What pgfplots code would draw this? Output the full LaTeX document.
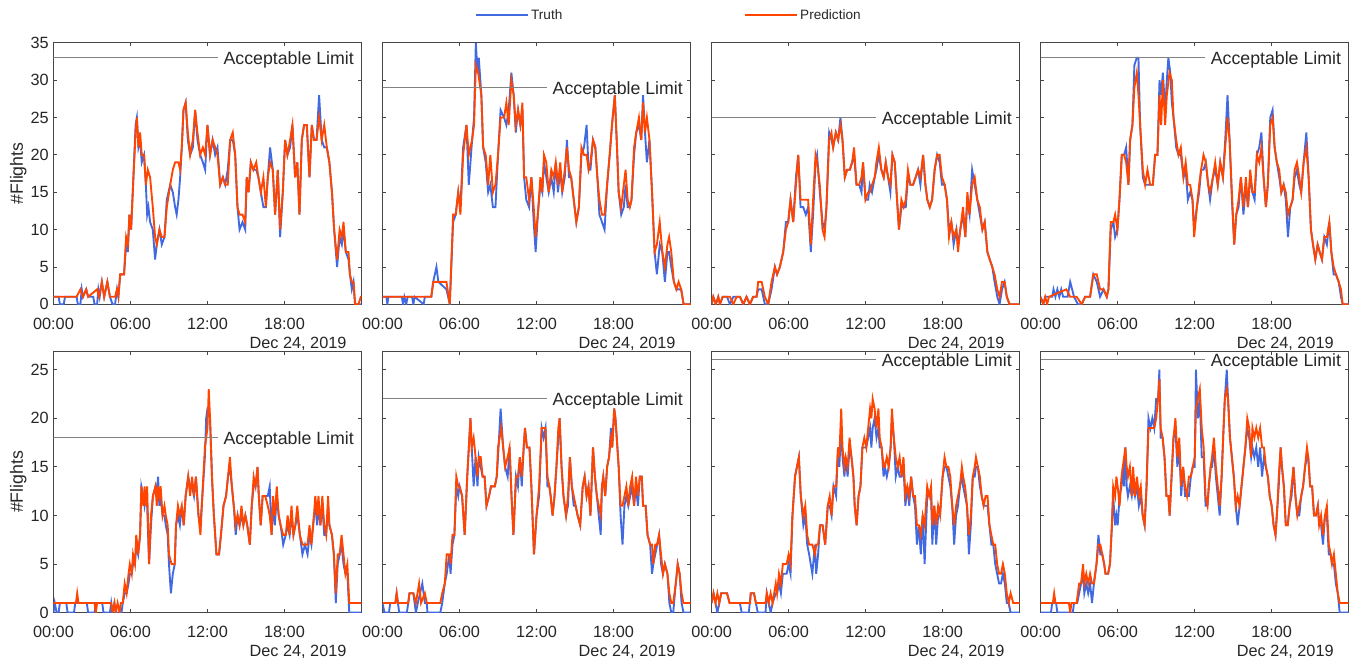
\documentclass[border=0pt]{standalone}
\usepackage{fontspec}
\setmainfont{Liberation Sans}
\usepackage{pgfplots}
\pgfplotsset{compat=1.18}
\definecolor{truthcol}{RGB}{65,105,225}
\definecolor{predcol}{RGB}{255,69,0}
\definecolor{txtcol}{RGB}{38,38,38}
\definecolor{axcol}{RGB}{70,70,70}
\definecolor{limcol}{RGB}{130,130,130}
\newcommand\tickfont{\fontsize{12.2}{14}\selectfont}
\newcommand\labfont{\fontsize{13.3}{15}\selectfont}
\newcommand\legfont{\fontsize{10.2}{12}\selectfont}
\pgfplotsset{
  panel/.style={
    scale only axis, width=231pt, height=196.1pt,
    anchor=south west,
    xmin=0, xmax=24, ymin=0,
    xtick={0,6,12,18}, xticklabels={00:00,06:00,12:00,18:00},
    axis line style={draw=axcol, line width=0.6pt},
    tick style={draw=axcol, line width=0.6pt},
    major tick length=2.6pt,
    ticklabel style={font=\tickfont, text=txtcol},
    xticklabel style={yshift=-6.5pt},
    /pgf/number format/assume math mode=true,
    xlabel={Dec 24, 2019},
    xlabel style={font=\tickfont, text=txtcol, at={(axis description cs:0.952,-0.15)}, anchor=east, inner sep=0pt},
    tr/.style={truthcol, line width=1.4pt},
    pr/.style={predcol, line width=1.4pt},
  },
  toprow/.style={ymax=35, ytick={0,5,...,35}},
  botrow/.style={ymax=26.9, ytick={0,5,...,25}},
  firstcol/.style={ylabel={\#Flights}, ylabel style={font=\labfont, text=txtcol, at={(axis description cs:-0.114,0.5)}, anchor=center}},
  othercol/.style={yticklabels={}},
}
\newcommand\limitline[1]{%
  \addplot[limcol, line width=0.8pt, forget plot] coordinates {(0,#1) (12.8,#1)};
  \node[anchor=east, font=\labfont, text=txtcol, inner sep=0pt, yshift=-1.5pt] at (axis cs:23.42,#1) {Acceptable Limit};
}
\begin{document}
\begin{tikzpicture}
\useasboundingbox (0,0) rectangle (1017pt,-496.5pt);
% ---------------- Panel 1
\begin{axis}[panel, toprow, firstcol, at={(40.1pt,-228.2pt)}]
\addplot[tr] coordinates {(0,1)(0.4,1)(0.5,0)(0.8,0)(0.9,1)(1.8,1)(1.9,0)(2.1,0)(2.2,2)(2.3,1)(2.55,2)(2.7,1)(3.1,1)(3.2,0)(3.4,0)(3.5,2)(3.6,1)(3.77,3)(3.95,1)(4.2,3)(4.4,1)(4.6,0)(4.8,0)(4.95,2)(5.06,1)(5.2,4)(5.5,4)(5.62,7)(5.7,9)(5.8,7)(5.92,12)(6.05,10)(6.23,17)(6.4,24)(6.5,25)(6.62,21)(6.75,22)(6.88,19)(7.06,20)(7.2,16)(7.3,12)(7.4,13)(7.53,11)(7.74,10)(7.92,6)(8.05,8)(8.26,10)(8.44,8)(8.65,9)(8.83,14)(9.1,16)(9.3,15)(9.48,13)(9.6,12)(9.74,14)(9.87,17)(10.0,21)(10.13,26)(10.3,27)(10.47,22)(10.65,20)(10.86,21)(11.04,26)(11.22,22)(11.43,20)(11.64,19)(11.82,18)(12.0,24)(12.2,20)(12.4,22)(12.6,20)(12.78,21)(12.99,16)(13.2,17)(13.38,16)(13.58,18)(13.77,22)(13.97,22)(14.16,20)(14.34,13)(14.5,10)(14.73,11)(14.94,10)(15.06,17)(15.2,15)(15.38,19)(15.58,18)(15.8,18)(15.97,17)(16.16,15)(16.36,13)(16.55,13)(16.7,17)(16.88,21)(17.09,18)(17.27,12)(17.48,18)(17.66,9)(17.87,15)(18.05,22)(18.23,20)(18.44,21)(18.62,24)(18.83,17)(19.0,19)(19.17,12)(19.35,22)(19.53,24)(19.74,24)(19.95,17)(20.13,24)(20.3,22)(20.5,22)(20.7,28)(20.9,22)(21.1,21)(21.3,21)(21.5,19)(21.7,15)(21.87,10)(22.1,5)(22.3,9)(22.47,8)(22.6,10)(22.78,7)(22.99,6)(23.1,4)(23.25,2)(23.38,3)(23.5,0)(24,0)};
\addplot[pr] coordinates {(0,1)(1.0,1)(1.8,1)(2.1,2)(2.3,1)(2.55,2)(2.7,1)(3.4,2)(3.55,1)(3.77,3)(3.95,1)(4.2,3)(4.4,1)(4.8,1)(4.95,2)(5.06,1)(5.2,4)(5.5,4)(5.66,9)(5.8,8)(5.92,12)(6.05,10)(6.23,17)(6.4,23)(6.5,25)(6.62,21)(6.75,23)(6.88,20)(7.06,20)(7.2,16)(7.35,18)(7.53,17)(7.74,13)(7.92,9)(8.05,8)(8.26,10)(8.44,9)(8.65,9)(8.83,13)(9.1,16)(9.3,18)(9.48,19)(9.74,19)(9.87,18)(10.0,21)(10.13,26)(10.3,27)(10.47,23)(10.65,20)(10.86,22)(11.04,26)(11.22,23)(11.43,20)(11.64,21)(11.82,20)(12.0,24)(12.2,20)(12.4,22)(12.6,21)(12.78,20)(12.99,16)(13.2,17)(13.38,16)(13.58,16)(13.77,22)(13.97,23)(14.16,20)(14.34,13)(14.5,12)(14.73,12)(14.94,11)(15.06,17)(15.2,15)(15.38,19)(15.58,18)(15.8,19)(15.97,17)(16.16,15)(16.36,17)(16.55,13)(16.7,17)(16.88,19)(17.09,18)(17.27,12)(17.48,18)(17.66,10)(17.87,15)(18.05,22)(18.23,20)(18.44,22)(18.62,24)(18.83,17)(19.0,19)(19.17,12)(19.35,22)(19.53,24)(19.74,24)(19.95,17)(20.13,24)(20.3,22)(20.5,22)(20.7,25)(20.9,22)(21.1,24)(21.3,21)(21.5,19)(21.7,15)(21.87,10)(22.1,6)(22.3,10)(22.47,9)(22.6,11)(22.78,7)(22.99,7)(23.1,4)(23.25,3)(23.38,3)(23.5,0)(23.77,0)(23.95,1)(24,1)};
\limitline{33}
\end{axis}
% ---------------- Panel 2
\begin{axis}[panel, toprow, othercol, at={(286.9pt,-228.2pt)},
  legend columns=2,
  legend style={at={(axis description cs:0.93,1.105)}, anchor=center, draw=none, fill=none, font=\legfont, text=txtcol, /tikz/every even column/.append style={column sep=134pt}},
  legend image code/.code={\draw[#1] (0pt,0pt) -- (39pt,0pt);}]
\addplot[tr] coordinates {(0,1)(0.3,1)(0.38,0)(0.45,1)(1.5,1)(1.6,0)(1.7,1)(1.85,0)(1.95,1)(2.3,1)(2.4,0)(2.5,1)(3.2,0)(3.3,1)(3.8,1)(3.95,3)(4.2,5)(4.35,3)(4.98,2)(5.24,0)(5.5,11)(5.7,12)(5.9,15)(6.07,13)(6.28,21)(6.54,24)(6.72,16)(6.98,22)(7.13,25)(7.27,35)(7.4,31)(7.5,33)(7.7,28)(7.84,21)(8.04,19)(8.23,15)(8.4,16)(8.6,13)(8.8,13)(9.0,20)(9.2,26)(9.47,25)(9.65,24)(9.83,26)(10.04,31)(10.22,28)(10.38,23)(10.56,26)(10.74,24)(10.9,26)(11.03,17)(11.2,14)(11.42,13)(11.6,17)(11.78,11)(11.93,7)(12.1,12)(12.3,16)(12.45,15)(12.58,19)(12.76,17)(12.95,15)(13.15,17)(13.34,15)(13.5,19)(13.67,15)(13.85,18)(14.0,15)(14.2,17)(14.37,22)(14.53,17)(14.7,17)(14.9,14)(15.1,11)(15.3,13)(15.5,20)(15.7,21)(15.9,24)(16.06,18)(16.2,18)(16.4,22)(16.58,21)(16.74,17)(16.9,12)(17.1,11)(17.3,10)(17.5,16)(17.7,20)(17.88,24)(18.1,28)(18.27,21)(18.4,15)(18.6,12)(18.8,13)(18.94,16)(19.1,13)(19.27,13)(19.4,14)(19.6,20)(19.77,23)(19.98,24)(20.16,22)(20.3,28)(20.45,23)(20.6,19)(20.8,22)(21.0,15)(21.2,7)(21.38,4)(21.6,8)(21.8,7)(22.0,3)(22.2,7)(22.33,7)(22.5,5)(22.7,3)(22.9,2)(23.07,2)(23.27,2)(23.46,0)(24,0)};
\addplot[pr] coordinates {(0,1)(3.8,1)(3.95,3)(4.98,3)(5.24,0)(5.5,12)(5.7,12)(5.9,15)(6.07,12)(6.28,20)(6.54,24)(6.72,20)(6.98,22)(7.13,24)(7.27,32)(7.45,31)(7.7,28)(7.84,21)(8.04,20)(8.23,16)(8.4,20)(8.6,15)(8.8,16)(9.0,20)(9.2,25)(9.47,25)(9.65,27)(9.83,24)(10.04,30)(10.22,28)(10.38,24)(10.56,26)(10.74,24)(10.9,27)(11.03,17)(11.2,17)(11.42,14)(11.6,17)(11.78,13)(11.93,9)(12.1,12)(12.3,17)(12.45,15)(12.58,20)(12.76,19)(12.95,15)(13.15,18)(13.34,17)(13.5,19)(13.67,16)(13.85,19)(14.0,15)(14.2,18)(14.37,21)(14.53,18)(14.7,17)(14.9,14)(15.1,11)(15.3,13)(15.5,21)(15.7,20)(15.9,20)(16.06,18)(16.2,19)(16.4,22)(16.58,21)(16.74,17)(16.9,14)(17.1,12)(17.3,12)(17.5,16)(17.7,20)(17.88,24)(18.1,28)(18.27,21)(18.4,15)(18.6,13)(18.8,16)(18.94,18)(19.1,14)(19.27,13)(19.4,14)(19.6,21)(19.77,23)(19.98,25)(20.16,22)(20.3,27)(20.45,23)(20.6,25)(20.8,22)(21.0,15)(21.2,7)(21.38,8)(21.6,11)(21.8,7)(22.0,5)(22.2,8)(22.33,9)(22.5,7)(22.7,3)(22.9,2)(23.07,3)(23.27,2)(23.46,0)(24,0)};
\legend{Truth,Prediction}
\limitline{29}
\end{axis}
% ---------------- Panel 3
\begin{axis}[panel, toprow, othercol, at={(533.7pt,-228.2pt)}]
\addplot[tr] coordinates {(0,0)(0.13,1)(0.33,0)(0.52,1)(0.65,0)(0.86,1)(1.2,1)(1.43,0)(1.69,1)(2.21,1)(2.47,0)(2.72,1)(2.98,0)(3.24,1)(3.5,1)(3.63,2)(3.9,2)(4.15,0)(4.41,0)(4.67,2)(4.93,5)(5.1,4)(5.32,5)(5.58,7)(5.79,11)(5.97,11)(6.15,14)(6.36,11)(6.57,17)(6.75,20)(6.93,13)(7.14,13)(7.34,12)(7.52,13)(7.73,7)(7.91,12)(8.1,19)(8.22,20)(8.43,15)(8.64,11)(8.8,10)(8.95,13)(9.16,23)(9.34,22)(9.47,21)(9.68,23)(9.86,22)(10.04,25)(10.2,22)(10.38,17)(10.56,18)(10.77,18)(10.95,19)(11.1,20)(11.29,16)(11.5,16)(11.68,15)(11.8,19)(11.99,14)(12.2,14)(12.32,16)(12.5,15)(12.71,17)(12.84,18)(13.03,20)(13.23,18)(13.41,17)(13.57,19)(13.75,17)(13.93,15)(14.09,20)(14.27,19)(14.45,14)(14.6,10)(14.79,13)(14.97,13)(15.13,13)(15.3,17)(15.49,16)(15.7,16)(15.9,17)(16.09,18)(16.27,16)(16.48,20)(16.66,16)(16.81,14)(17.0,13)(17.18,14)(17.38,18)(17.57,20)(17.77,19)(17.95,16)(18.16,16)(18.34,14)(18.5,10)(18.68,11)(18.86,8)(19.07,10)(19.2,8)(19.38,10)(19.59,12)(19.77,9)(19.93,14)(20.1,12)(20.3,18)(20.5,16)(20.7,14)(20.9,12)(21.1,10)(21.28,11)(21.49,7)(21.67,6)(21.87,5)(22.05,3)(22.26,1)(22.44,0)(22.63,2)(22.83,3)(23.0,1)(23.22,0)(24,0)};
\addplot[pr] coordinates {(0,0)(0.13,1)(0.33,0)(0.52,1)(0.65,0)(0.86,1)(1.43,1)(1.69,0)(1.95,1)(2.21,1)(2.47,0)(2.72,1)(2.98,0)(3.24,1)(3.5,1)(3.63,3)(3.9,3)(4.15,1)(4.41,0)(4.67,3)(4.93,5)(5.1,4)(5.32,5)(5.58,7)(5.79,10)(5.97,11)(6.15,14)(6.36,11)(6.57,16)(6.75,20)(6.93,14)(7.14,14)(7.34,14)(7.52,14)(7.73,8)(7.91,14)(8.1,20)(8.22,19)(8.43,16)(8.64,10)(8.8,9)(8.95,13)(9.16,22)(9.34,23)(9.47,21)(9.68,23)(9.86,22)(10.04,24)(10.2,22)(10.38,17)(10.56,18)(10.77,18)(10.95,19)(11.1,21)(11.29,16)(11.5,16)(11.68,17)(11.8,19)(11.99,14)(12.2,15)(12.32,15)(12.5,16)(12.71,17)(12.84,19)(13.03,21)(13.23,18)(13.41,17)(13.57,19)(13.75,17)(13.93,16)(14.09,20)(14.27,19)(14.45,14)(14.6,10)(14.79,14)(14.97,13)(15.13,14)(15.3,18)(15.49,16)(15.7,16)(15.9,17)(16.09,18)(16.27,17)(16.48,20)(16.66,16)(16.81,14)(17.0,13)(17.18,14)(17.38,18)(17.57,20)(17.77,20)(17.95,17)(18.16,16)(18.34,14)(18.5,9)(18.68,11)(18.86,9)(19.07,10)(19.2,7)(19.38,10)(19.59,13)(19.77,9)(19.93,15)(20.1,12)(20.3,16)(20.5,17)(20.7,14)(20.9,13)(21.1,10)(21.28,11)(21.49,7)(21.67,6)(21.87,5)(22.05,4)(22.26,2)(22.44,1)(22.63,3)(22.83,3)(23.0,1)(23.22,0)(24,0)};
\limitline{25}
\end{axis}
% ---------------- Panel 4
\begin{axis}[panel, toprow, othercol, at={(780.5pt,-228.2pt)}]
\addplot[tr] coordinates {(0,1)(0.2,0)(0.35,1)(0.9,1)(1.0,2)(1.15,1)(1.3,2)(1.45,1)(1.6,2)(1.75,1)(2.1,1)(2.3,3)(2.45,2)(2.6,1)(2.9,0)(3.2,0)(3.46,1)(3.85,1)(4.1,4)(4.37,3)(4.63,1)(4.9,2)(5.15,1)(5.28,2)(5.46,10)(5.67,11)(5.8,9)(5.98,10)(6.14,14)(6.32,20)(6.5,20)(6.66,21)(6.84,16)(6.97,22)(7.15,24)(7.3,32)(7.49,33)(7.62,33)(7.75,24)(7.96,17)(8.14,16)(8.32,16)(8.53,16)(8.74,16)(8.92,20)(9.1,20)(9.26,30)(9.39,28)(9.52,31)(9.7,26)(9.83,30)(9.95,33)(10.1,31)(10.22,27)(10.35,25)(10.56,21)(10.74,20)(10.92,20)(11.13,17)(11.3,18)(11.47,14)(11.65,15)(11.83,14)(11.96,10)(12.17,13)(12.35,15)(12.5,18)(12.69,18)(12.87,19)(13.05,16)(13.2,14)(13.42,17)(13.6,18)(13.8,16)(13.99,19)(14.2,17)(14.38,22)(14.56,28)(14.72,22)(14.9,14)(15.08,8)(15.24,12)(15.42,13)(15.6,17)(15.8,12)(15.99,16)(16.15,13)(16.33,17)(16.5,15)(16.67,14)(16.85,20)(17.03,21)(17.2,23)(17.37,17)(17.55,13)(17.7,16)(17.89,25)(18.07,26)(18.23,21)(18.4,19)(18.59,17)(18.75,15)(18.93,16)(19.1,14)(19.27,9)(19.45,13)(19.63,14)(19.79,17)(19.97,18)(20.15,16)(20.3,15)(20.49,19)(20.7,23)(20.88,17)(21.06,10)(21.22,8)(21.4,6)(21.58,8)(21.74,7)(21.92,6)(22.1,9)(22.3,8)(22.49,11)(22.65,7)(22.83,4)(23.01,4)(23.22,3)(23.4,1)(23.53,0)(24,0)};
\addplot[pr] coordinates {(0,1)(0.2,0)(0.35,1)(0.5,0)(0.65,1)(2.0,2)(2.3,1)(2.8,1)(3.2,0)(3.46,1)(3.85,1)(4.1,4)(4.37,4)(4.63,2)(4.9,2)(5.15,1)(5.28,2)(5.46,11)(5.67,11)(5.8,12)(5.98,10)(6.14,14)(6.32,20)(6.5,20)(6.66,19)(6.84,16)(6.97,22)(7.15,24)(7.3,29)(7.49,31)(7.62,28)(7.75,24)(7.96,18)(8.14,16)(8.32,18)(8.53,16)(8.74,16)(8.92,20)(9.1,20)(9.26,28)(9.39,24)(9.52,30)(9.7,24)(9.83,28)(10.04,31)(10.22,30)(10.35,25)(10.56,22)(10.74,20)(10.92,21)(11.13,17)(11.3,19)(11.47,16)(11.65,16)(11.83,14)(11.96,9)(12.17,13)(12.35,16)(12.5,18)(12.69,20)(12.87,19)(13.05,16)(13.2,15)(13.42,17)(13.6,19)(13.8,16)(13.99,19)(14.2,17)(14.38,21)(14.56,25)(14.72,22)(14.9,15)(15.08,8)(15.24,12)(15.42,14)(15.6,17)(15.8,13)(15.99,17)(16.15,13)(16.33,18)(16.5,15)(16.67,15)(16.85,20)(17.03,19)(17.2,21)(17.37,17)(17.55,13)(17.7,16)(17.89,24)(18.07,25)(18.23,21)(18.4,19)(18.59,18)(18.75,15)(18.93,16)(19.1,15)(19.27,12)(19.45,13)(19.63,14)(19.79,18)(19.97,19)(20.15,17)(20.3,15)(20.49,19)(20.7,21)(20.88,17)(21.06,10)(21.22,8)(21.4,6)(21.58,8)(21.74,7)(21.92,6)(22.1,9)(22.3,9)(22.49,11)(22.65,7)(22.83,5)(23.01,4)(23.22,3)(23.4,2)(23.53,0)(24,0)};
\limitline{33}
\end{axis}
% ---------------- Panel 5
\begin{axis}[panel, botrow, firstcol, at={(40.1pt,-459.5pt)}]
\addplot[tr] coordinates {(0,0)(0.1,1)(0.25,0)(0.4,0)(0.5,1)(1.0,1)(1.1,0)(1.6,0)(1.7,1)(2.6,1)(2.7,0)(3.2,0)(3.3,1)(3.8,1)(3.9,0)(4.4,0)(4.5,1)(4.6,0)(4.75,1)(4.85,0)(5.3,0)(5.4,1)(5.55,2)(5.7,2)(5.85,3)(5.95,4)(6.1,4)(6.2,5)(6.35,5)(6.45,7)(6.6,6)(6.75,8)(6.85,13)(7.0,12)(7.1,11)(7.2,12)(7.3,11)(7.45,5)(7.6,9)(7.75,12)(7.95,13)(8.05,12)(8.15,14)(8.25,11)(8.35,12)(8.5,10)(8.65,10)(8.75,9)(8.9,8)(9.0,5)(9.15,2)(9.3,4)(9.45,5)(9.55,9)(9.7,10)(9.85,9)(10.0,11)(10.15,9)(10.3,12)(10.5,14)(10.65,13)(10.8,13)(10.95,12)(11.1,14)(11.3,10)(11.45,9)(11.6,12)(11.8,16)(11.9,20)(12.0,21)(12.1,21)(12.2,20)(12.35,14)(12.5,10)(12.7,6)(12.9,6)(13.05,8)(13.25,11)(13.45,12)(13.6,14)(13.75,15)(13.9,13)(14.05,11)(14.2,8)(14.35,10)(14.5,9)(14.65,10)(14.8,9)(14.95,10)(15.1,9)(15.3,7)(15.45,11)(15.6,13)(15.75,13)(15.9,15)(16.0,12)(16.15,9)(16.3,12)(16.5,12)(16.7,12)(16.85,13)(17.0,8)(17.1,11)(17.25,9)(17.4,12)(17.55,10)(17.7,9)(17.9,7)(18.1,8)(18.25,9)(18.4,8)(18.55,10)(18.7,8)(18.85,9)(19.0,10)(19.2,8)(19.4,6)(19.6,7)(19.8,6)(19.95,8)(20.1,7)(20.3,10)(20.4,11)(20.55,9)(20.65,11)(20.8,9)(20.95,11)(21.1,8)(21.25,8)(21.4,11)(21.5,9)(21.7,8)(21.85,6)(22.0,1)(22.15,5)(22.3,6)(22.45,7)(22.6,5)(22.75,4)(22.9,4)(23.05,0)(24,0)};
\addplot[pr] coordinates {(0,1)(1.75,1)(1.85,2)(1.95,1)(3.2,1)(3.3,0)(3.4,1)(4.5,1)(4.6,0)(4.75,1)(4.85,0)(5.0,1)(5.15,0)(5.25,1)(5.4,1)(5.55,3)(5.7,2)(5.85,4)(5.95,5)(6.1,4)(6.2,6)(6.35,5)(6.45,8)(6.6,6)(6.75,8)(6.85,13)(7.0,11)(7.1,13)(7.2,11)(7.3,13)(7.45,5)(7.6,10)(7.75,12)(7.95,13)(8.05,11)(8.15,13)(8.25,12)(8.35,13)(8.5,10)(8.65,11)(8.75,10)(8.9,9)(9.0,6)(9.2,5)(9.45,5)(9.55,9)(9.7,11)(9.85,10)(10.0,11)(10.15,9)(10.3,12)(10.5,14)(10.65,12)(10.8,14)(10.95,12)(11.1,14)(11.3,10)(11.45,8)(11.6,12)(11.8,17)(11.9,18)(12.0,19)(12.1,23)(12.2,20)(12.35,14)(12.5,10)(12.7,6)(12.9,6)(13.05,8)(13.25,11)(13.45,12)(13.6,14)(13.75,16)(13.9,13)(14.05,11)(14.2,9)(14.35,10)(14.5,9)(14.65,11)(14.8,9)(14.95,10)(15.1,9)(15.3,7)(15.45,11)(15.6,14)(15.75,13)(15.9,15)(16.0,12)(16.15,9)(16.3,12)(16.5,12)(16.7,11)(16.85,10)(17.0,8)(17.1,12)(17.25,10)(17.4,13)(17.55,10)(17.7,9)(17.9,8)(18.1,8)(18.25,10)(18.4,8)(18.55,11)(18.7,8)(18.85,9)(19.0,11)(19.2,8)(19.4,7)(19.6,7)(19.8,7)(19.95,9)(20.1,7)(20.3,10)(20.4,12)(20.55,10)(20.65,12)(20.8,9)(20.95,12)(21.1,9)(21.25,8)(21.4,12)(21.5,9)(21.7,8)(21.85,6)(22.0,2)(22.15,6)(22.3,6)(22.45,8)(22.6,6)(22.75,4)(22.9,5)(23.05,1)(24,1)};
\limitline{18}
\end{axis}
% ---------------- Panel 6
\begin{axis}[panel, botrow, othercol, at={(286.9pt,-459.5pt)}]
\addplot[tr] coordinates {(0,1)(0.15,0)(0.5,0)(0.6,1)(1.0,1)(1.1,2)(1.2,1)(1.3,0)(1.9,0)(2.0,1)(2.1,2)(2.4,2)(2.5,1)(2.6,0)(2.75,1)(3.1,3)(3.3,1)(3.45,1)(3.5,0)(4.5,0)(4.65,1)(4.85,3)(5.0,4)(5.2,6)(5.3,4)(5.45,7)(5.6,8)(5.75,13)(5.9,12)(6.0,13)(6.2,12)(6.4,8)(6.6,14)(6.85,20)(6.95,17)(7.1,13)(7.25,16)(7.4,13)(7.5,16)(7.65,15)(7.8,14)(7.95,14)(8.1,11)(8.3,12)(8.45,13)(8.6,13)(8.75,13)(8.9,14)(9.0,16)(9.2,21)(9.4,17)(9.55,15)(9.75,14)(9.9,17)(10.05,12)(10.2,8)(10.4,14)(10.55,13)(10.7,16)(10.85,13)(11.0,17)(11.1,19)(11.25,17)(11.45,17)(11.6,13)(11.8,6)(12.0,10)(12.2,12)(12.4,19)(12.55,18)(12.7,19)(12.85,13)(13.0,13)(13.1,12)(13.25,10)(13.4,12)(13.55,15)(13.7,18)(13.8,20)(13.95,15)(14.1,12)(14.3,10)(14.45,11)(14.6,16)(14.75,13)(14.9,11)(15.05,11)(15.2,10)(15.4,9)(15.6,13)(15.75,14)(15.9,12)(16.05,13)(16.2,10)(16.4,17)(16.55,14)(16.7,12)(16.85,10)(17.0,8)(17.1,13)(17.2,14)(17.35,12)(17.5,15)(17.65,16)(17.8,19)(17.9,17)(18.05,21)(18.15,20)(18.3,17)(18.4,15)(18.55,10)(18.7,7)(18.85,11)(19.0,12)(19.15,11)(19.3,12)(19.45,13)(19.6,11)(19.75,13)(19.9,11)(20.05,14)(20.2,14)(20.3,11)(20.5,11)(20.65,8)(20.85,7)(21.0,4)(21.1,5)(21.25,6)(21.4,7)(21.55,8)(21.7,5)(21.85,4)(22.0,5)(22.2,4)(22.35,1)(22.5,0)(22.65,0)(22.85,3)(23.0,5)(23.15,4)(23.3,1)(23.45,0)(24,0)};
\addplot[pr] coordinates {(0,1)(1.0,1)(1.1,2)(1.2,1)(2.0,1)(2.1,2)(2.4,2)(2.6,1)(2.85,3)(3.0,1)(3.3,2)(3.45,1)(4.5,1)(4.65,2)(4.85,3)(5.0,6)(5.2,6)(5.3,5)(5.45,8)(5.6,8)(5.75,14)(5.9,13)(6.0,13)(6.2,12)(6.4,8)(6.6,14)(6.85,20)(6.95,17)(7.1,18)(7.25,16)(7.4,14)(7.5,16)(7.65,16)(7.8,14)(7.95,14)(8.1,11)(8.3,12)(8.45,13)(8.6,13)(8.75,13)(8.9,14)(9.0,17)(9.25,19)(9.4,17)(9.55,15)(9.75,16)(9.9,17)(10.05,12)(10.2,8)(10.4,14)(10.55,14)(10.7,16)(10.85,14)(11.0,17)(11.1,19)(11.25,17)(11.45,17)(11.6,13)(11.8,6)(12.0,10)(12.2,13)(12.4,19)(12.55,19)(12.7,19)(12.85,14)(13.0,13)(13.1,12)(13.25,10)(13.4,12)(13.55,15)(13.7,19)(13.8,20)(13.95,15)(14.1,12)(14.3,10)(14.45,12)(14.6,16)(14.75,13)(14.9,12)(15.05,11)(15.2,10)(15.4,9)(15.6,13)(15.75,14)(15.9,12)(16.05,13)(16.2,10)(16.4,17)(16.55,14)(16.7,12)(16.85,11)(17.0,10)(17.1,13)(17.2,14)(17.35,12)(17.5,15)(17.65,16)(17.8,18)(17.9,17)(18.05,21)(18.15,20)(18.3,17)(18.4,15)(18.55,11)(18.7,11)(18.85,12)(19.0,13)(19.15,11)(19.3,13)(19.45,14)(19.6,11)(19.75,14)(19.9,12)(20.05,14)(20.2,14)(20.3,11)(20.5,11)(20.65,8)(20.85,7)(21.0,7)(21.1,5)(21.25,7)(21.4,7)(21.55,8)(21.7,6)(21.85,4)(22.0,5)(22.2,4)(22.35,2)(22.5,1)(22.65,1)(22.85,3)(23.0,5)(23.15,4)(23.3,2)(23.45,1)(24,1)};
\limitline{22}
\end{axis}
% ---------------- Panel 7
\begin{axis}[panel, botrow, othercol, at={(533.7pt,-459.5pt)}]
\addplot[tr] coordinates {(0,1)(0.15,2)(0.3,1)(0.45,0)(0.6,1)(0.75,2)(1.2,2)(1.4,1)(2.2,1)(2.35,0)(2.9,0)(3.05,2)(3.3,2)(3.45,1)(3.6,0)(4.2,0)(4.3,2)(4.45,1)(4.6,0)(4.75,1)(5.0,2)(5.1,2)(5.25,3)(5.4,2)(5.55,4)(5.85,4)(6.0,5)(6.15,4)(6.3,10)(6.5,14)(6.8,16)(6.95,12)(7.15,9)(7.3,10)(7.45,7)(7.6,6)(7.85,4)(8.05,7)(8.15,4)(8.3,6)(8.45,9)(8.65,9)(8.85,7)(9.05,11)(9.2,11)(9.35,10)(9.5,13)(9.7,12)(9.85,17)(9.95,15)(10.1,19)(10.2,16)(10.35,14)(10.45,16)(10.6,14)(10.75,17)(10.9,16)(11.05,14)(11.15,11)(11.3,9)(11.45,12)(11.6,13)(11.75,17)(11.9,17)(12.05,17)(12.2,18)(12.35,19)(12.45,17)(12.55,19)(12.7,20)(12.85,18)(13.0,19)(13.1,17)(13.25,17)(13.4,14)(13.5,15)(13.65,14)(13.8,15)(13.95,17)(14.05,20)(14.2,18)(14.35,14)(14.5,15)(14.65,14)(14.8,14)(14.95,15)(15.1,11)(15.25,13)(15.4,11)(15.55,14)(15.7,12)(15.85,11)(16.0,7)(16.15,9)(16.3,6)(16.45,10)(16.6,5)(16.8,12)(16.95,12)(17.1,12)(17.2,7)(17.35,11)(17.5,7)(17.65,10)(17.8,10)(18.0,14)(18.15,15)(18.3,15)(18.45,14)(18.6,13)(18.75,11)(18.9,7)(19.05,10)(19.2,11)(19.35,13)(19.5,14)(19.6,13)(19.75,12)(19.9,11)(20.05,6)(20.2,9)(20.35,14)(20.5,14)(20.6,15)(20.75,15)(20.9,13)(21.05,12)(21.2,11)(21.35,11)(21.5,11)(21.65,9)(21.8,7)(21.95,7)(22.1,5)(22.25,4)(22.4,3)(22.55,3)(22.7,4)(22.85,3)(23.0,1)(23.15,1)(23.3,0)(24,0)};
\addplot[pr] coordinates {(0,1)(0.15,2)(0.3,1)(0.45,2)(0.6,1)(0.75,2)(1.2,2)(1.4,1)(3.0,1)(3.05,2)(3.3,2)(3.45,1)(4.2,1)(4.3,2)(4.45,1)(4.6,2)(4.75,1)(5.0,3)(5.1,2)(5.25,4)(5.4,3)(5.55,5)(5.85,5)(6.0,6)(6.15,5)(6.3,10)(6.5,14)(6.8,16)(6.95,12)(7.15,10)(7.3,11)(7.45,8)(7.6,7)(7.85,7)(8.05,6)(8.15,7)(8.3,7)(8.45,9)(8.65,9)(8.85,7)(9.05,11)(9.2,12)(9.35,10)(9.5,13)(9.7,13)(9.85,17)(9.95,16)(10.1,21)(10.2,17)(10.35,15)(10.45,16)(10.6,15)(10.75,18)(10.9,16)(11.05,14)(11.15,11)(11.3,9)(11.45,12)(11.6,13)(11.75,17)(11.9,18)(12.05,17)(12.2,19)(12.35,21)(12.45,20)(12.55,22)(12.7,21)(12.85,19)(13.0,21)(13.1,18)(13.25,17)(13.4,15)(13.5,15)(13.65,16)(13.8,15)(13.95,17)(14.05,21)(14.2,18)(14.35,16)(14.5,15)(14.65,16)(14.8,14)(14.95,16)(15.1,12)(15.25,13)(15.4,12)(15.55,14)(15.7,12)(15.85,12)(16.0,9)(16.15,9)(16.3,8)(16.45,10)(16.6,9)(16.8,13)(16.95,12)(17.1,13)(17.2,9)(17.35,11)(17.5,9)(17.65,11)(17.8,10)(18.0,14)(18.15,16)(18.3,15)(18.45,15)(18.6,14)(18.75,11)(18.9,9)(19.05,11)(19.2,12)(19.35,13)(19.5,15)(19.6,14)(19.75,13)(19.9,11)(20.05,8)(20.2,10)(20.35,14)(20.5,15)(20.6,16)(20.75,15)(20.9,14)(21.05,12)(21.2,11)(21.35,12)(21.5,12)(21.65,9)(21.8,8)(21.95,7)(22.1,7)(22.25,5)(22.4,4)(22.55,4)(22.7,5)(22.85,4)(23.0,2)(23.15,1)(23.3,2)(23.5,1)(24,1)};
\limitline{26}
\end{axis}
% ---------------- Panel 8
\begin{axis}[panel, botrow, othercol, at={(780.5pt,-459.5pt)}]
\addplot[tr] coordinates {(0,0)(0.8,0)(0.9,1)(1.05,1)(1.2,1)(1.3,0)(2.5,0)(2.6,1)(2.85,1)(3.0,2)(3.15,3)(3.3,4)(3.4,2)(3.55,3)(3.7,2)(3.85,3)(4.0,1)(4.15,3)(4.35,5)(4.5,8)(4.65,6)(4.8,6)(4.95,5)(5.05,4)(5.25,4)(5.4,5)(5.55,9)(5.65,12)(5.8,9)(5.9,10)(6.0,9)(6.15,12)(6.3,13)(6.4,15)(6.5,13)(6.6,17)(6.7,13)(6.8,12)(6.95,13)(7.1,12)(7.2,13)(7.35,12)(7.5,13)(7.65,11)(7.8,12)(7.95,10)(8.1,9)(8.25,13)(8.4,20)(8.55,19)(8.7,20)(8.85,19)(9.0,22)(9.15,22)(9.25,25)(9.35,18)(9.5,18)(9.65,16)(9.8,12)(9.95,12)(10.05,10)(10.2,14)(10.35,18)(10.5,19)(10.65,15)(10.8,17)(10.95,12)(11.1,15)(11.25,12)(11.4,12)(11.55,12)(11.7,14)(11.85,15)(12.0,15)(12.1,25)(12.25,20)(12.4,22)(12.55,16)(12.7,16)(12.85,11)(13.0,11)(13.1,13)(13.25,15)(13.35,15)(13.5,17)(13.65,14)(13.8,12)(13.95,10)(14.1,14)(14.25,19)(14.35,22)(14.5,25)(14.6,22)(14.75,18)(14.9,16)(15.05,14)(15.2,11)(15.35,9)(15.5,11)(15.65,13)(15.8,15)(15.95,17)(16.1,19)(16.25,18)(16.4,16)(16.5,17)(16.65,16)(16.8,17)(16.95,15)(17.1,17)(17.25,14)(17.4,16)(17.55,15)(17.7,14)(17.85,12)(18.0,11)(18.15,9)(18.3,8)(18.45,11)(18.55,13)(18.7,17)(18.8,15)(18.95,13)(19.1,9)(19.25,9)(19.4,11)(19.55,12)(19.7,15)(19.85,12)(20.0,10)(20.15,10)(20.3,12)(20.45,13)(20.6,15)(20.75,16)(20.85,16)(21.0,13)(21.15,13)(21.3,10)(21.45,10)(21.6,11)(21.7,9)(21.85,9)(22.0,7)(22.15,10)(22.3,10)(22.45,6)(22.6,6)(22.7,5)(22.85,5)(23.0,3)(23.15,2)(23.3,0)(24,0)};
\addplot[pr] coordinates {(0,1)(0.95,1)(1.05,2)(1.15,1)(2.2,1)(2.3,0)(2.4,1)(2.8,1)(3.0,3)(3.15,3)(3.3,5)(3.4,3)(3.55,4)(3.7,3)(3.85,4)(4.0,3)(4.15,3)(4.35,5)(4.5,7)(4.65,7)(4.8,6)(4.95,5)(5.05,4)(5.25,4)(5.4,5)(5.55,9)(5.65,13)(5.8,12)(5.9,14)(6.0,13)(6.15,11)(6.3,14)(6.4,15)(6.5,16)(6.6,17)(6.7,15)(6.8,14)(6.95,15)(7.1,12)(7.2,15)(7.35,12)(7.5,14)(7.65,12)(7.8,13)(7.95,10)(8.1,9)(8.25,13)(8.4,19)(8.55,19)(8.7,19)(8.85,19)(9.0,20)(9.15,22)(9.25,24)(9.35,19)(9.5,18)(9.65,16)(9.8,12)(9.95,12)(10.05,10)(10.2,14)(10.35,18)(10.5,20)(10.65,16)(10.8,18)(10.95,13)(11.1,15)(11.25,13)(11.4,12)(11.55,14)(11.7,14)(11.85,15)(12.0,16)(12.1,21)(12.25,22)(12.4,23)(12.55,19)(12.7,17)(12.85,12)(13.0,11)(13.1,13)(13.25,15)(13.35,16)(13.5,18)(13.65,15)(13.8,13)(13.95,11)(14.1,14)(14.25,19)(14.35,22)(14.5,23)(14.6,22)(14.75,18)(14.9,16)(15.05,14)(15.2,11)(15.35,12)(15.5,11)(15.65,13)(15.8,15)(15.95,17)(16.1,20)(16.25,19)(16.4,16)(16.5,19)(16.65,18)(16.8,19)(16.95,18)(17.1,19)(17.25,17)(17.4,17)(17.55,15)(17.7,14)(17.85,12)(18.0,11)(18.15,9)(18.3,8)(18.45,11)(18.55,14)(18.7,17)(18.8,15)(18.95,13)(19.1,9)(19.25,9)(19.4,11)(19.55,13)(19.7,15)(19.85,12)(20.0,10)(20.15,11)(20.3,12)(20.45,13)(20.6,15)(20.75,17)(20.85,16)(21.0,13)(21.15,13)(21.3,10)(21.45,10)(21.6,11)(21.7,9)(21.85,10)(22.0,8)(22.15,10)(22.3,11)(22.45,7)(22.6,6)(22.7,5)(22.85,6)(23.0,4)(23.15,2)(23.3,1)(24,1)};
\limitline{26}
\end{axis}
\end{tikzpicture}
\end{document}
